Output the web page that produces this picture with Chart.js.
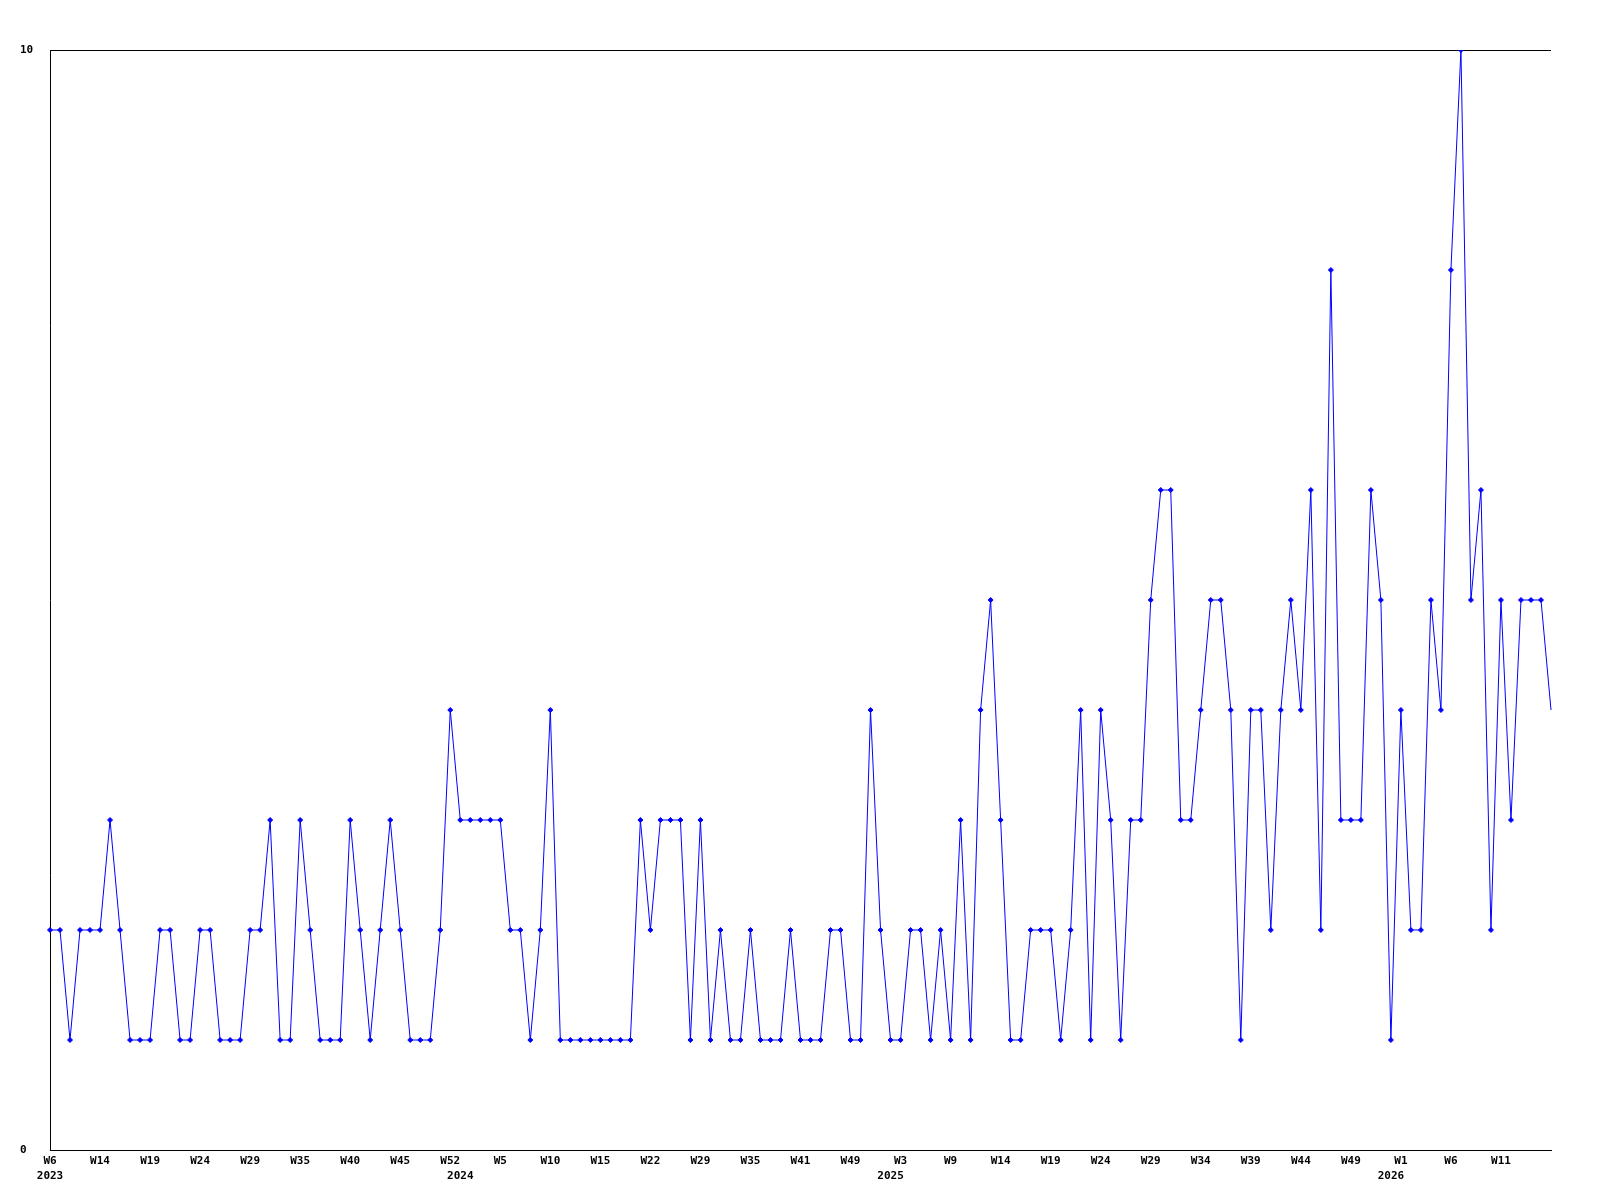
<!DOCTYPE html>
<html>
<head>
<meta charset="utf-8">
<script src="https://cdn.jsdelivr.net/npm/chart.js@4"></script>
<style>
  html, body { margin: 0; padding: 0; background: #fff; }
  #wrap { width: 1600px; height: 1200px; }
</style>
</head>
<body>
<div id="wrap"><canvas id="myChart"></canvas></div>
<script>
// week numbers present in the data, per year
const weeks2023 = [6, 8, 10, 11, 12, 14, 15, 16, 17, 18, 19, 20, 21, 22, 23, 24, 25, 26, 27, 28,
  29, 30, 31, 33, 34, 35, 36, 37, 38, 39, 40, 41, 42, 43, 44, 45, 46, 47, 49, 51, 52];
const weeks2024 = [1, 2, 3, 4, 5, 6, 7, 8, 9, 10, 11, 12, 13, 14, 15, 17, 18, 20, 21, 22,
  23, 24, 26, 27, 29, 30, 31, 32, 34, 35, 36, 37, 38, 40, 41, 42, 44, 46, 47, 49, 50, 51, 52];
const weeks2025 = [2, 3, 4, 5, 6, 8, 9, 10, 11, 12, 13, 14, 15, 16, 17, 18, 19, 20, 21, 22,
  23, 24, 25, 26, 27, 28, 29, 30, 31, 32, 33, 34, 35, 36, 37, 38, 39, 40, 41, 42,
  43, 44, 45, 46, 47, 48, 49, 50, 51, 52];
const weeks2026 = [0, 1, 2, 3, 4, 5, 6, 7, 8, 9, 10, 11, 12, 13, 14, 15, 16];

const values = [
  2, 2, 1, 2, 2, 2, 3, 2, 1, 1,
  1, 2, 2, 1, 1, 2, 2, 1, 1, 1,
  2, 2, 3, 1, 1, 3, 2, 1, 1, 1,
  3, 2, 1, 2, 3, 2, 1, 1, 1, 2,
  4, 3, 3, 3, 3, 3, 2, 2, 1, 2,
  4, 1, 1, 1, 1, 1, 1, 1, 1, 3,
  2, 3, 3, 3, 1, 3, 1, 2, 1, 1,
  2, 1, 1, 1, 2, 1, 1, 1, 2, 2,
  1, 1, 4, 2, 1, 1, 2, 2, 1, 2,
  1, 3, 1, 4, 5, 3, 1, 1, 2, 2,
  2, 1, 2, 4, 1, 4, 3, 1, 3, 3,
  5, 6, 6, 3, 3, 4, 5, 5, 4, 1,
  4, 4, 2, 4, 5, 4, 6, 2, 8, 3,
  3, 3, 6, 5, 1, 4, 2, 2, 5, 4,
  8, 10, 5, 6, 2, 5, 3, 5, 5, 5, 4
];

const yTicks = [0, 10];
const labelEvery = 5;

const categories = [
  ...weeks2023.map(w => "2023-W" + w),
  ...weeks2024.map(w => "2024-W" + w),
  ...weeks2025.map(w => "2025-W" + w),
  ...weeks2026.map(w => "2026-W" + w),
];

const tickFont = { family: "'DejaVu Sans Mono', monospace", size: 11, weight: "bold", lineHeight: "15px" };

document.addEventListener("DOMContentLoaded", () => {
  const ctx = document.getElementById("myChart").getContext("2d");
  const last = values.length - 1;

  new Chart(ctx, {
    type: "line",
    data: {
      labels: categories,
      datasets: [
        {
          label: "count",
          data: values,
          borderColor: "#0000ff",
          backgroundColor: "#0000ff",
          borderWidth: 1,
          tension: 0,
          fill: false,
          pointStyle: "rectRot",
          pointRadius: (c) => (c.dataIndex === last ? 0 : 2.5),
          pointBorderWidth: 1,
        },
      ],
    },
    options: {
      responsive: true,
      maintainAspectRatio: false,
      animation: false,
      layout: { padding: { left: 20, top: 50, right: 49, bottom: 0 } },
      plugins: {
        legend: { display: false },
        tooltip: { enabled: false },
      },
      scales: {
        x: {
          grid: { display: false, drawTicks: false },
          border: { display: true, color: "#000", width: 1 },
          afterFit: (s) => { s.height = 50; },
          ticks: {
            autoSkip: false,
            maxRotation: 0,
            minRotation: 0,
            padding: 4,
            color: "#000",
            font: tickFont,
            callback: (val, i) => {
              const [yr, wk] = categories[i].split("-");
              // the last point gets no week label
              const top = i % labelEvery === 0 && i < last ? wk : "";
              const firstOfYear = i === 0 || categories[i - 1].split("-")[0] !== yr;
              return firstOfYear ? [top, yr] : top;
            },
          },
        },
        y: {
          min: 0,
          max: 10,
          afterBuildTicks: (s) => { s.ticks = yTicks.map(v => ({ value: v })); },
          afterFit: (s) => { s.width = 30; },
          grid: { color: "#000", drawTicks: false },
          border: { display: true, color: "#000", width: 1 },
          ticks: {
            crossAlign: "far",
            padding: 0,
            color: "#000",
            font: tickFont,
          },
        },
      },
    },
  });
});
</script>
</body>
</html>
